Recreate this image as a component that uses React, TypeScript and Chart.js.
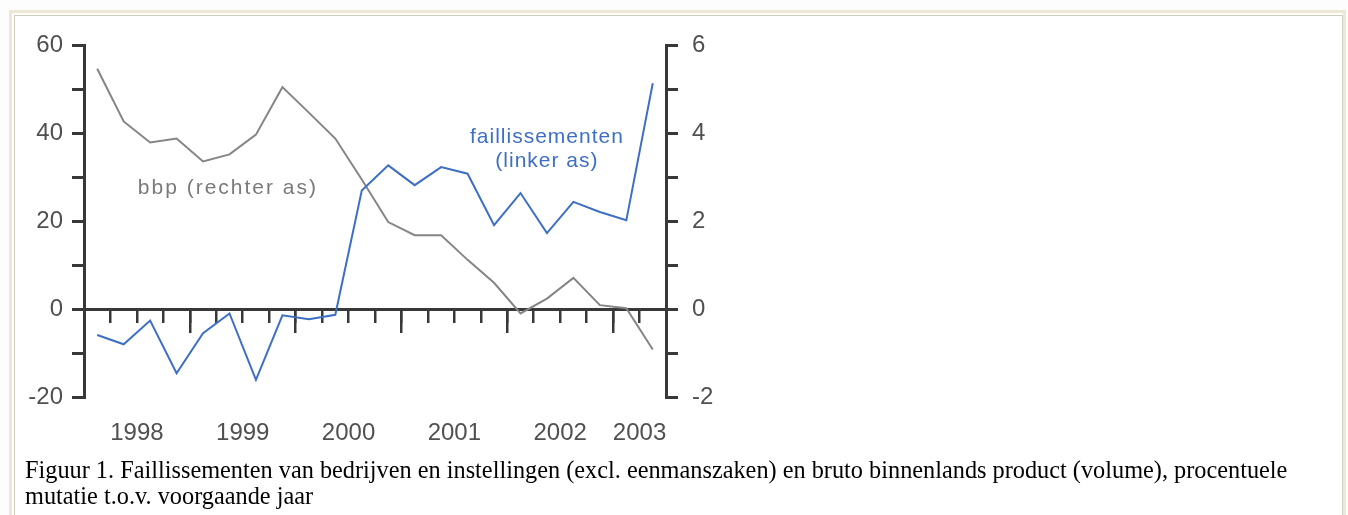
import React, { useEffect, useRef } from 'react';
import { Chart, registerables } from 'chart.js';

Chart.register(...registerables);

// Quarterly observations, 1998 Q1 .. 2003 Q2
const quarters = [
  '1998 K1', '1998 K2', '1998 K3', '1998 K4',
  '1999 K1', '1999 K2', '1999 K3', '1999 K4',
  '2000 K1', '2000 K2', '2000 K3', '2000 K4',
  '2001 K1', '2001 K2', '2001 K3', '2001 K4',
  '2002 K1', '2002 K2', '2002 K3', '2002 K4',
  '2003 K1', '2003 K2',
];

// Faillissementen, % mutatie (linker as)
const faillissementen = [
  -5.9, -8.0, -2.6, -14.6, -5.5, -1.0, -16.1, -1.4, -2.3, -1.3, 27.0,
  32.7, 28.2, 32.3, 30.8, 19.1, 26.4, 17.3, 24.4, 22.1, 20.2, 51.4,
];

// Bbp volume, % mutatie (rechter as)
const bbp = [
  5.47, 4.27, 3.79, 3.88, 3.36, 3.52, 3.97, 5.05, 4.47, 3.88, 2.95,
  1.98, 1.68, 1.68, 1.12, 0.6, -0.1, 0.24, 0.71, 0.09, 0.02, -0.92,
];

const leftMin = -20;
const leftMax = 60;
const leftStep = 10;
const leftLabelEvery = 20;
const rightMin = -2;
const rightMax = 6;
const rightStep = 1;
const rightLabelEvery = 2;

const seriesLabels = ['faillissementen (linker as)', 'bbp (rechter as)'];

const annotations = [
  { lines: ['bbp (rechter as)'], x: 5.44, y: 2.61, axis: 'y1', color: '#7a7a7a', spacing: '2px' },
  { lines: ['faillissementen', '(linker as)'], x: 17.5, y: 37.7, axis: 'y', color: '#3d6fc4', spacing: '1px' },
];

const caption1 =
  'Figuur 1. Faillissementen van bedrijven en instellingen (excl. eenmanszaken) en bruto binnenlands product (volume), procentuele';
const caption2 = 'mutatie t.o.v. voorgaande jaar';

const years = Array.from(new Set(quarters.map((q) => q.slice(0, 4))));
const yearCenters = years.map((y) => {
  const idx = quarters.map((q, i) => (q.startsWith(y) ? i : -1)).filter((i) => i >= 0);
  return (idx[0] + idx[idx.length - 1] + 1) / 2;
});
const yearStarts = quarters.map((q, i) => (q.endsWith('K1') ? i : -1)).filter((i) => i >= 0);

const AXIS = '#383838';
const TICKTXT = '#505050';
const tickFont = { family: "'Liberation Sans', Arial, sans-serif", size: 24 };

const CW = 700;
const CH = 440;
const AREA = { left: 68, right: 650, top: 28, bottom: 380 };

const annotationPlugin = {
  id: 'annot',
  afterDatasetsDraw(chart: any) {
    const ctx = chart.ctx;
    const xs = chart.scales.x;
    ctx.save();
    ctx.font = "21px 'Liberation Sans', Arial, sans-serif";
    ctx.textAlign = 'center';
    ctx.textBaseline = 'alphabetic';
    annotations.forEach((a) => {
      try { (ctx as any).letterSpacing = a.spacing; } catch (e) {}
      const px = xs.getPixelForValue(a.x);
      const py = chart.scales[a.axis].getPixelForValue(a.y);
      ctx.fillStyle = a.color;
      a.lines.forEach((line, i) => ctx.fillText(line, px, py + i * 24));
    });
    ctx.restore();
  },
};

export default function App() {
  const ref = useRef<HTMLCanvasElement>(null);
  useEffect(() => {
    if (!ref.current) return;
    const n = quarters.length;
    const chart = new Chart(ref.current, {
      type: 'line',
      data: {
        datasets: [
          {
            label: seriesLabels[0],
            data: faillissementen.map((v, i) => ({ x: i + 0.5, y: v })),
            borderColor: '#3d6fc4',
            borderWidth: 2,
            pointRadius: 0,
            tension: 0,
            xAxisID: 'x',
            yAxisID: 'y',
          },
          {
            label: seriesLabels[1],
            data: bbp.map((v, i) => ({ x: i + 0.5, y: v })),
            borderColor: '#858585',
            borderWidth: 2,
            pointRadius: 0,
            tension: 0,
            xAxisID: 'x',
            yAxisID: 'y1',
          },
        ],
      },
      options: {
        animation: false,
        responsive: false,
        events: [],
        layout: { padding: { top: AREA.top, left: 0, right: 0, bottom: 0 } },
        plugins: { legend: { display: false }, tooltip: { enabled: false }, title: { display: false } },
        scales: {
          x: {
            type: 'linear',
            position: 'bottom',
            min: 0,
            max: n,
            grid: { display: false, drawTicks: false },
            border: { display: false },
            afterBuildTicks: (s: any) => {
              s.ticks = yearCenters.map((v) => ({ value: v }));
            },
            afterFit: (s: any) => {
              s.height = CH - AREA.bottom;
            },
            ticks: {
              autoSkip: false,
              maxRotation: 0,
              minRotation: 0,
              padding: 22,
              color: TICKTXT,
              font: tickFont,
              callback: (_v: any, i: number) => years[i],
            },
          },
          xq: {
            type: 'linear',
            position: { y: 0 } as any,
            min: 0,
            max: n,
            afterBuildTicks: (s: any) => {
              s.ticks = Array.from({ length: n + 1 }, (_, i) => ({ value: i }));
            },
            grid: { drawOnChartArea: false, drawTicks: true, tickLength: 12, lineWidth: 2.5, color: AXIS },
            border: { display: true, width: 3, color: AXIS },
            ticks: { display: false },
          },
          xy: {
            type: 'linear',
            position: { y: 0 } as any,
            min: 0,
            max: n,
            afterBuildTicks: (s: any) => {
              s.ticks = yearStarts.map((v) => ({ value: v }));
            },
            grid: { drawOnChartArea: false, drawTicks: true, tickLength: 24, lineWidth: 2.5, color: AXIS },
            border: { display: false },
            ticks: { display: false },
          },
          y: {
            type: 'linear',
            position: 'left',
            min: leftMin,
            max: leftMax,
            afterFit: (s: any) => {
              s.width = AREA.left;
            },
            grid: { drawOnChartArea: false, drawTicks: true, tickLength: 12, lineWidth: 3, color: AXIS },
            border: { display: true, width: 3, color: AXIS },
            ticks: {
              stepSize: leftStep,
              padding: 9,
              color: TICKTXT,
              font: tickFont,
              callback: (v: any) => (Number(v) % leftLabelEvery === 0 ? String(v) : ''),
            },
          },
          y1: {
            type: 'linear',
            position: 'right',
            min: rightMin,
            max: rightMax,
            afterFit: (s: any) => {
              s.width = CW - AREA.right;
            },
            grid: { drawOnChartArea: false, drawTicks: true, tickLength: 12, lineWidth: 3, color: AXIS },
            border: { display: true, width: 3, color: AXIS },
            ticks: {
              stepSize: rightStep,
              padding: 14,
              color: TICKTXT,
              font: tickFont,
              callback: (v: any) => (Number(v) % rightLabelEvery === 0 ? String(v) : ''),
            },
          },
        },
      },
      plugins: [annotationPlugin],
    });
    return () => chart.destroy();
  }, []);

  return (
    <div style={{ position: 'absolute', left: 0, top: 0, width: 1348, height: 515, overflow: 'hidden', background: '#fdfdfd' }}>
      <div
        style={{
          position: 'absolute',
          left: 9,
          top: 10,
          width: 1337,
          height: 600,
          boxSizing: 'border-box',
          border: '3px solid #ebe8d6',
          background: '#ffffff',
        }}
      />
      <div
        style={{
          position: 'absolute',
          left: 14,
          top: 15,
          width: 1329,
          height: 600,
          boxSizing: 'border-box',
          border: '1px solid #d2cebe',
          background: '#ffffff',
        }}
      />
      <canvas
        ref={ref}
        width={CW}
        height={CH}
        style={{ position: 'absolute', left: 16, top: 17, width: CW, height: CH }}
      />
      <div
        style={{
          position: 'absolute',
          left: 25,
          top: 457,
          fontFamily: "'Liberation Serif', 'Times New Roman', serif",
          fontSize: 24.3,
          lineHeight: '26px',
          color: '#000',
          whiteSpace: 'nowrap',
        }}
      >
        {caption1}
        <br />
        {caption2}
      </div>
    </div>
  );
}
